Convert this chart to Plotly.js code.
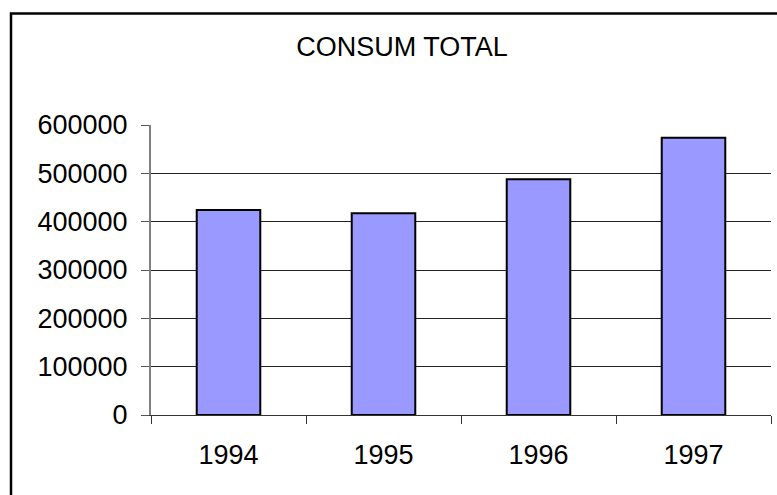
<!DOCTYPE html>
<html>
<head>
<meta charset="utf-8">
<script src="https://cdn.plot.ly/plotly-3.0.1.min.js"></script>
<style>
  html, body { margin: 0; padding: 0; background: #ffffff; }
  #chart { width: 777px; height: 495px; }
</style>
</head>
<body>
<div id="chart"></div>
<script>
const years = ['1994', '1995', '1996', '1997'];
const consumTotal = [424200, 417400, 487600, 573600];
const yTickValues = [0, 100000, 200000, 300000, 400000, 500000, 600000];
const yTickLabels = ['0', '100000', '200000', '300000', '400000', '500000', '600000'];
const chartTitle = 'CONSUM TOTAL';

const FONT = '"Liberation Sans", Arial, sans-serif';

const trace = {
  type: 'bar',
  x: years,
  y: consumTotal,
  marker: { color: '#9999FF', line: { color: '#000000', width: 2 } },
  hoverinfo: 'x+y'
};

const layout = {
  width: 777,
  height: 495,
  margin: { l: 151, r: 6, t: 125, b: 80, pad: 0 },
  paper_bgcolor: '#ffffff',
  plot_bgcolor: '#ffffff',
  font: { family: FONT, size: 27, color: '#000000' },
  showlegend: false,
  bargap: 0.59,
  title: {
    text: chartTitle,
    font: { family: FONT, size: 27, color: '#000000' },
    x: 402 / 777,
    xanchor: 'center',
    xref: 'container',
    y: 1 - 47 / 495,
    yanchor: 'middle',
    yref: 'container'
  },
  xaxis: {
    type: 'category',
    tickson: 'boundaries',
    ticks: 'outside',
    ticklen: 8,
    tickwidth: 1,
    tickcolor: '#333333',
    showline: true,
    linecolor: '#333333',
    linewidth: 1,
    showgrid: false,
    zeroline: false,
    tickfont: { family: FONT, size: 27, color: '#000000' },
    ticklabelstandoff: 16,
    fixedrange: true
  },
  yaxis: {
    range: [0, 600000],
    tickmode: 'array',
    tickvals: yTickValues,
    ticktext: yTickLabels,
    ticks: 'outside',
    ticklen: 8,
    tickwidth: 1,
    tickcolor: '#555555',
    showline: true,
    linecolor: '#808080',
    linewidth: 2,
    showgrid: true,
    gridcolor: '#222222',
    gridwidth: 1,
    zeroline: false,
    tickfont: { family: FONT, size: 27, color: '#000000' },
    ticklabelstandoff: 8,
    fixedrange: true
  },
  shapes: [
    {
      type: 'rect',
      xref: 'paper', yref: 'paper',
      x0: (11 - 151) / 620, x1: 1.2,
      y0: -0.5, y1: (415.3 - 13.5) / 290.3,
      line: { color: '#000000', width: 2.5 },
      fillcolor: 'rgba(0,0,0,0)',
      layer: 'above'
    }
  ]
};

Plotly.newPlot('chart', [trace], layout, { displayModeBar: false, staticPlot: true });
</script>
</body>
</html>
